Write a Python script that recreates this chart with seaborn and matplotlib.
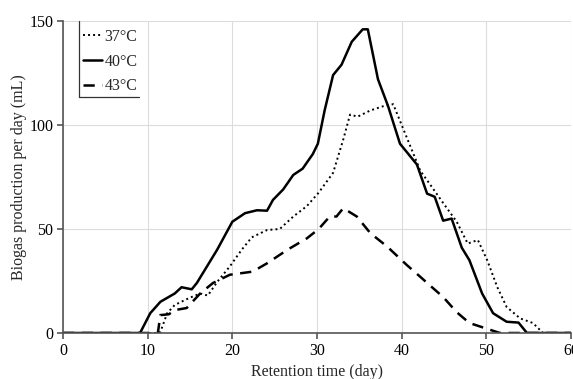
import numpy as np
import pandas as pd
import matplotlib
matplotlib.use("Agg")
import matplotlib.pyplot as plt
import seaborn as sns

# --- data ---
day_37 = [0, 11.2, 11.5, 12.3, 13.2, 15.0, 16.2, 17.1, 18.2, 19.7, 21.1, 22.3, 24.1, 25.6, 27.2, 28.8,
          30.2, 31.9, 33.1, 33.9, 34.8, 36.3, 37.8, 39.0, 40.2, 41.2, 42.2, 43.6, 44.9, 46.5, 47.8,
          49.0, 50.1, 51.3, 52.4, 54.0, 55.5, 56.7, 60]
gas_37 = [0, 0, 0.5, 9.5, 13.5, 17, 19, 18, 24.5, 32, 40, 46, 49.5, 50, 56, 61,
          67.5, 77, 93, 105, 104, 107, 109, 110, 98, 88, 78, 70, 62.5, 53.5, 43,
          44.7, 35, 22, 12.5, 7, 4.8, 0, 0]

day_40 = [0, 9.1, 10.3, 11.5, 13.2, 14.0, 15.2, 15.8, 17.0, 18.2, 20.0, 21.5, 22.9, 24.1, 24.8, 26.0,
          27.2, 28.3, 29.5, 30.1, 30.9, 31.9, 32.9, 34.1, 35.4, 36.0, 37.2, 38.4, 39.8, 41.8, 43.0,
          43.9, 44.9, 45.9, 47.1, 48.0, 49.5, 50.8, 52.4, 53.8, 54.8, 60]
gas_40 = [0, 0, 9.5, 15, 19, 22, 21, 24, 32, 40, 53.5, 57.6, 59, 58.8, 64, 69,
          76, 79, 86, 91, 107, 124, 129, 140, 146, 146, 122, 109, 91, 81, 67,
          65.5, 54, 55, 41, 35, 19, 9.5, 5.4, 5, 0, 0]

day_43 = [0, 11.2, 11.5, 12.5, 13.2, 14.6, 16.2, 17.7, 19.7, 22.4, 24.1, 26.5, 28.8, 30.2, 31.5,
          32.3, 33.1, 34.7, 36.3, 38.3, 40.6, 42.2, 43.3, 44.9, 46.5, 48.0, 49.8, 51.6, 60]
gas_43 = [0, 0, 8.6, 9, 11, 12, 19, 24, 28, 29.5, 33.5, 40, 45.5, 50, 56,
          56, 60, 56, 48, 41.5, 32.7, 27, 23, 17.3, 10, 4.8, 2.4, 0, 0]

labels = ["37°C", "40°C", "43°C"]

sns.set_theme(style="white")
plt.rcParams["font.family"] = ["Liberation Serif", "DejaVu Serif"]
plt.rcParams["font.size"] = 11.5

fig = plt.figure(figsize=(5.73, 3.79), dpi=100)
ax = fig.add_axes([0.110, 0.1214, 0.8865, 0.8232])

sns.lineplot(x=day_37, y=gas_37, ax=ax, color="black", lw=1.4, linestyle=(0, (1, 1.6)), label=labels[0])
sns.lineplot(x=day_40, y=gas_40, ax=ax, color="black", lw=1.8, linestyle="-", label=labels[1])
sns.lineplot(x=day_43, y=gas_43, ax=ax, color="black", lw=1.8, linestyle=(0, (4.5, 3)), label=labels[2])

ax.set_xlim(0, 60)
ax.set_ylim(0, 150)
ax.set_xticks(np.arange(0, 61, 10))
ax.set_yticks([0, 50, 100, 150])
ax.grid(True, color="#dcdcdc", lw=0.8)
ax.set_axisbelow(True)
for s in ["top", "right"]:
    ax.spines[s].set_visible(False)
for s in ["left", "bottom"]:
    ax.spines[s].set_color("#555555")
    ax.spines[s].set_linewidth(1.2)
ax.tick_params(axis="both", direction="out", length=4, width=1.2, color="#555555",
               labelsize=11.5, colors="black", bottom=True, left=True, pad=3)
ax.set_xlabel("Retention time (day)", fontsize=11.5, labelpad=4)
ax.set_ylabel("Biogas production per day (mL)", fontsize=11.5, labelpad=2)

leg = ax.legend(loc="upper left", bbox_to_anchor=(0.033, 0.985), frameon=False,
                handlelength=1.2, handletextpad=0.15, labelspacing=0.55,
                borderaxespad=0.0, borderpad=0.2, fontsize=11.5)
# legend border: left and bottom edges only
ax.plot([0.031, 0.031], [1.0, 0.756], transform=ax.transAxes, color="#333333", lw=0.9, clip_on=False)
ax.plot([0.031, 0.149], [0.756, 0.756], transform=ax.transAxes, color="#333333", lw=0.9, clip_on=False)

fig.savefig("out.png", dpi=100)
